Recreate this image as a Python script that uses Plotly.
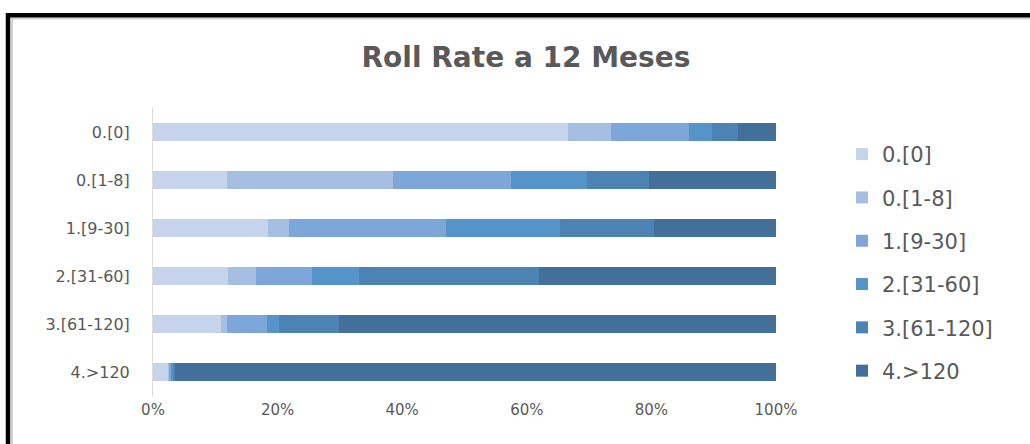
import plotly.graph_objects as go

categories = ["0.[0]", "0.[1-8]", "1.[9-30]", "2.[31-60]", "3.[61-120]", "4.>120"]
series_names = ["0.[0]", "0.[1-8]", "1.[9-30]", "2.[31-60]", "3.[61-120]", "4.>120"]

# share (%) of each destination bucket, per origin row (rows in categories order)
s_00 = [66.6, 11.9, 18.5, 12.1, 10.9, 2.5]
s_01 = [6.9, 26.6, 3.4, 4.4, 1.0, 0.2]
s_09 = [12.5, 18.9, 25.2, 9.0, 6.4, 0.3]
s_31 = [3.8, 12.3, 18.2, 7.6, 2.0, 0.3]
s_61 = [4.1, 9.9, 15.1, 28.9, 9.5, 0.3]
s_120 = [6.1, 20.4, 19.6, 38.0, 70.2, 96.4]

series_values = [s_00, s_01, s_09, s_31, s_61, s_120]
colors = ["#C5D4EB", "#A4BFE2", "#7CA7D8", "#5693C9", "#4C83B4", "#42709B"]
x_ticks = [0, 0.2, 0.4, 0.6, 0.8, 1.0]

W, H = 1030, 444
L, R, T, B = 153, 776, 108, 396

def px_x(p):
    return (p - L) / (R - L)

def px_y(p):
    return (B - p) / (B - T)

fig = go.Figure()
for i, (name, vals, col) in enumerate(zip(series_names, series_values, colors)):
    fig.add_trace(go.Bar(
        y=categories,
        x=[v / 100 for v in vals],
        name=name,
        orientation="h",
        marker=dict(color=col, line=dict(width=0)),
        width=0.39,
        legendgroup=f"g{i}",
    ))

txt = "#595959"
fam = "DejaVu Sans"
fig.update_layout(
    width=W, height=H,
    margin=dict(l=L, r=W - R, t=T, b=H - B, pad=0),
    barmode="stack",
    paper_bgcolor="white",
    plot_bgcolor="white",
    font=dict(family=fam, color=txt),
    title=dict(
        text="Roll Rate a 12 Meses",
        x=526 / W, xanchor="center",
        y=1 - 57 / H, yanchor="middle",
        font=dict(family=fam, size=28, color=txt, weight="bold"),
    ),
    xaxis=dict(
        range=[0, 1], tickvals=x_ticks, tickformat=".0%",
        showgrid=False, zeroline=False, showline=False,
        tickfont=dict(size=15, color=txt, family=fam),
        ticklabelstandoff=3,
        fixedrange=True,
    ),
    yaxis=dict(
        categoryorder="array", categoryarray=categories, autorange="reversed",
        showgrid=False, zeroline=False, showline=True, linecolor="#D9D9D9", linewidth=1,
        tickfont=dict(size=16, color=txt, family=fam),
        ticklabelstandoff=19,
        fixedrange=True,
    ),
    legend=dict(
        x=px_x(842), xanchor="left",
        y=px_y(134), yanchor="top",
        traceorder="grouped",
        tracegroupgap=13,
        font=dict(size=21, color=txt, family=fam),
        bgcolor="rgba(0,0,0,0)",
    ),
    showlegend=True,
    shapes=[
        # inner light gray frame
        dict(type="rect", xref="paper", yref="paper",
             x0=px_x(12), x1=px_x(1040), y0=px_y(460), y1=px_y(18.5),
             line=dict(color="#D0D0D0", width=2), fillcolor="rgba(0,0,0,0)", layer="below"),
        # outer black frame
        dict(type="rect", xref="paper", yref="paper",
             x0=px_x(8), x1=px_x(1040), y0=px_y(460), y1=px_y(15.3),
             line=dict(color="black", width=4.5), fillcolor="rgba(0,0,0,0)", layer="above"),
    ],
)

fig.write_html("out.html")
